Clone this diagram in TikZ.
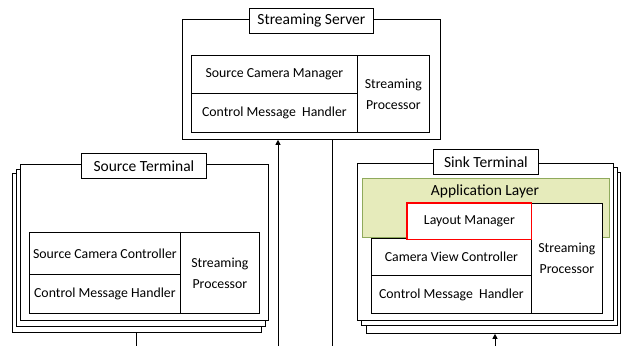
\documentclass[tikz,border=0pt]{standalone}
\usepackage{fontspec}
\setmainfont{Carlito}
\usetikzlibrary{arrows.meta}
\definecolor{appfill}{HTML}{E6EBBB}
\definecolor{appdraw}{HTML}{8FAA5C}
\tikzset{
  box/.style={fill=white, line width=0.8pt, inner sep=0pt, anchor=north west, align=center,
    font=\fontsize{13.8}{21}\selectfont},
  blk/.style={box, draw=black},
  ttl/.style={blk, font=\fontsize{15.5}{18}\selectfont},
  conn/.style={line width=1pt, black},
  arr/.style={conn, -{Triangle[width=5pt,length=5pt]}}
}
\begin{document}
\begin{tikzpicture}[x=1pt,y=-1pt]
\useasboundingbox (0,0) rectangle (623,346);
% Streaming server
\node[blk, minimum width=258pt, minimum height=120pt] (srv) at (182,19) {};
\node[ttl, minimum width=124pt, minimum height=25pt] (srvt) at (249,8) {Streaming Server};
\node[blk, minimum width=166pt, minimum height=38pt] (scm) at (191,55) {Source Camera Manager};
\node[blk, minimum width=166pt, minimum height=39pt] (scmh) at (191,93) {Control Message\ \ Handler};
\node[blk, minimum width=72pt, minimum height=77pt] (ssp) at (357,55) {Streaming\\Processor};
% Source terminal
\node[blk, minimum width=249pt, minimum height=159pt] (st3) at (12,173) {};
\node[blk, minimum width=249pt, minimum height=157pt] (st2) at (16,169) {};
\node[blk, minimum width=248pt, minimum height=156pt] (st1) at (20,164) {};
\node[ttl, minimum width=125pt, minimum height=25pt] (stt) at (81,153) {Source Terminal};
\node[blk, minimum width=151pt, minimum height=42pt] (scc) at (29,232) {Source Camera Controller};
\node[blk, minimum width=151pt, minimum height=39pt] (scmh2) at (29,274) {Control Message Handler};
\node[blk, minimum width=79pt, minimum height=81pt] (ssp2) at (180,232) {Streaming\\Processor};
% Sink terminal
\node[blk, minimum width=254pt, minimum height=161pt] (k3) at (366,172) {};
\node[blk, minimum width=256pt, minimum height=158pt] (k2) at (361,167) {};
\node[blk, minimum width=256pt, minimum height=157pt] (k1) at (357,163) {};
\node[ttl, minimum width=105pt, minimum height=25pt] (kt) at (433,149) {Sink Terminal};
\node[box, fill=appfill, minimum width=247pt, minimum height=59pt] (app) at (362,178) {};
\draw[appdraw, line width=1pt] (app.north west) rectangle (app.south east);
\node[font=\fontsize{15.5}{18}\selectfont, inner sep=0pt] (appl) at (485,191) {Application Layer};
\node[blk, minimum width=160pt, minimum height=37pt] (cvc) at (371,238) {Camera View Controller};
\node[blk, minimum width=160pt, minimum height=38pt] (kcmh) at (371,275) {Control Message\ \ Handler};
\node[blk, minimum width=71pt, minimum height=110pt] (ksp) at (531,203) {Streaming\\Processor};
\node[box, minimum width=124pt, minimum height=36pt] (lm) at (407,203) {Layout Manager};
\draw[red, line width=1.1pt] (lm.north west) rectangle (lm.south east);
% connectors
\coordinate (a1) at (278,346);
\coordinate (a2) at (332,346);
\coordinate (a3) at (136,346);
\coordinate (a4) at (495,346);
\draw[arr] (a1) -- (a1 |- srv.south);
\draw[conn] (a2 |- srv.south) -- (a2);
\draw[conn] (a3 |- st3.south) -- (a3);
\draw[arr] (a4) -- (a4 |- k3.south);
\end{tikzpicture}
\end{document}
